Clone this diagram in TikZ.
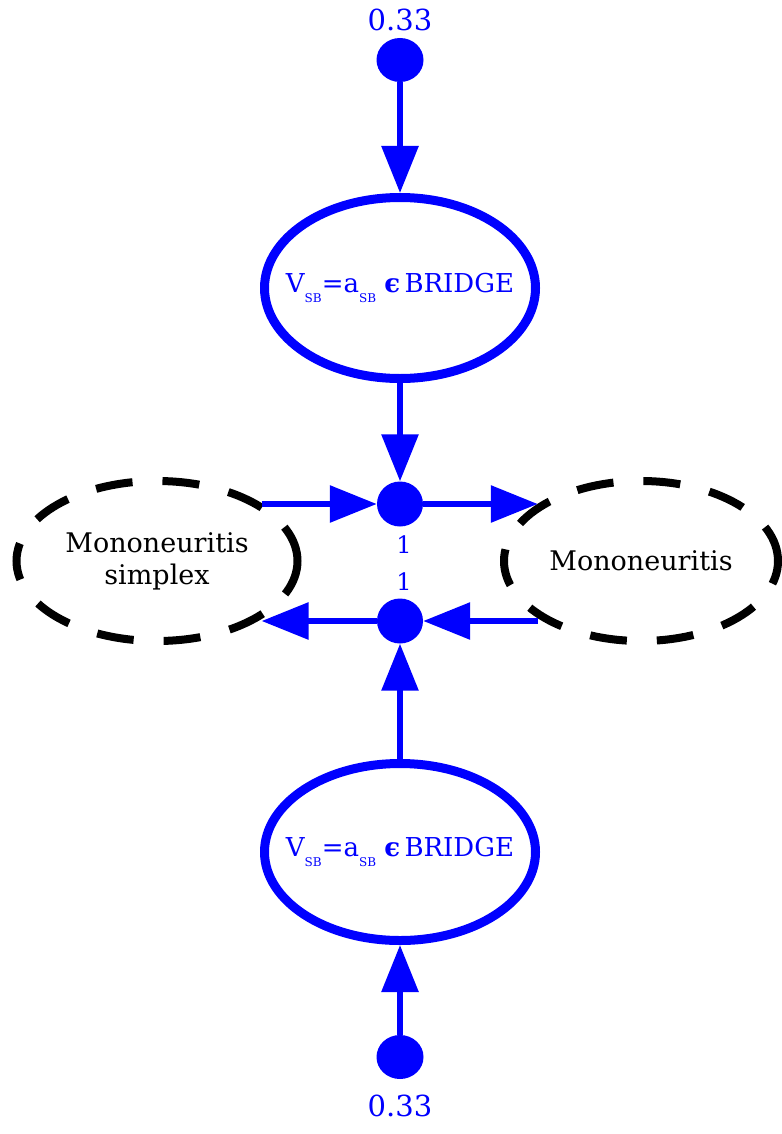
\documentclass[tikz,border=0pt]{standalone}
\usepackage{fontspec}
\setmainfont{DejaVu Serif}
\usetikzlibrary{shapes.geometric,arrows.meta}

% small lowered subscript used in the bridge labels
\newcommand{\sbsub}{\raisebox{-0.4em}{\fontsize{12}{13}\selectfont SB}}

\begin{document}
\begin{tikzpicture}[x=1pt,y=-1pt,
  dot/.style={ellipse,fill=blue,draw=none,inner sep=0pt},
  bluering/.style={ellipse,draw=blue,line width=9pt,inner sep=0pt,
    minimum width=271pt,minimum height=181pt},
  ringtext/.style={text=blue,inner sep=0pt,font=\fontsize{26}{30}\selectfont},
  dashring/.style={ellipse,draw=black,line width=8pt,
    dash pattern=on 37pt off 30pt,inner sep=0pt},
  concept/.style={align=center,inner sep=0pt,font=\fontsize{27}{32}\selectfont},
  arr/.style={draw=blue,line width=6pt,-{Triangle[length=47pt,width=36pt]}},
  lbl/.style={text=blue,font=\fontsize{29}{30}\selectfont,inner sep=0pt},
  onelbl/.style={text=blue,font=\fontsize{24}{26}\selectfont,inner sep=0pt}
]
\useasboundingbox (0,0) rectangle (781,1134);

% source weights
\node[dot,minimum width=47pt,minimum height=44pt] (top) at (400,60) {};
\node[lbl] (toplbl) at (400,20) {0.33};
\node[dot,minimum width=47pt,minimum height=44pt] (bot) at (400,1057) {};
\node[lbl] (botlbl) at (400,1106) {0.33};

% bridge conditions
\node[bluering] (bru) at (400,288) {};
\node[ringtext] (brutext) at (bru) {V\sbsub=a\sbsub\ {\bfseries ϵ}\,BRIDGE};
\node[bluering,minimum height=177pt] (brl) at (400,852) {};
\node[ringtext] (brltext) at (brl) {V\sbsub=a\sbsub\ {\bfseries ϵ}\,BRIDGE};

% concepts
\node[dashring,minimum width=281pt,minimum height=160pt] (simplex) at (157,561) {};
\node[concept] (simplextext) at (simplex) {Mononeuritis\\simplex};
\node[dashring,minimum width=274pt,minimum height=160pt] (mono) at (641,561) {};
\node[concept] (monotext) at (mono) {Mononeuritis};

% junctions
\node[dot,minimum width=46pt,minimum height=45pt] (j1) at (400,504) {};
\node[dot,minimum width=46pt,minimum height=45pt] (j2) at (400,621) {};
\node[onelbl] (j1lbl) at (404,545) {1};
\node[onelbl] (j2lbl) at (404,582) {1};

% connectors
\draw[arr] (top) -- (bru);
\draw[arr] (bru) -- (j1);
\draw[arr] (simplex.29 |- j1) -- (j1.west);
\draw[arr] (j1.east) -- (mono.151 |- j1);
\draw[arr] (mono.209 |- j2) -- (j2.east);
\draw[arr] (j2.west) -- (simplex.331 |- j2);
\draw[arr] (brl) -- (j2);
\draw[arr] (bot) -- (brl);
\end{tikzpicture}
\end{document}
